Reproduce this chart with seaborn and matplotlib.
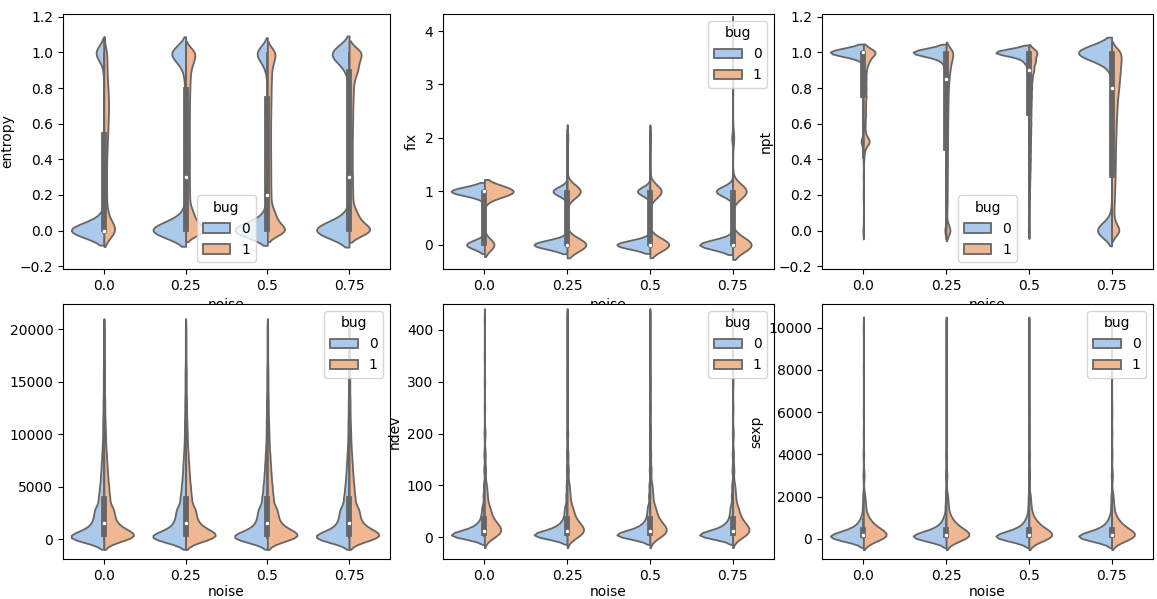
import numpy as np
import pandas as pd
import matplotlib
matplotlib.use("Agg")
import matplotlib.pyplot as plt
import seaborn as sns

noise_levels = ["0.0", "0.25", "0.5", "0.75"]
bug_levels = ["0", "1"]

# ---- entropy: support grid (step 0.05) and counts per (noise, bug) ----
entropy_grid = [0.0, 0.05, 0.1, 0.15, 0.2, 0.25, 0.3, 0.35, 0.4, 0.45, 0.5,
                0.55, 0.6, 0.65, 0.7, 0.75, 0.8, 0.85, 0.9, 0.95, 1.0]
entropy_n000_b0 = [300, 30, 8, 2, 2, 1, 1, 1, 1, 1, 1, 1, 1, 1, 1, 1, 1, 2, 3, 10, 70]
entropy_n000_b1 = [30, 8, 6, 4, 4, 4, 4, 4, 4, 5, 5, 6, 6, 7, 7, 7, 6, 5, 5, 4, 6]
entropy_n025_b0 = [280, 40, 12, 4, 3, 3, 3, 3, 3, 3, 3, 3, 3, 3, 3, 4, 4, 6, 10, 30, 110]
entropy_n025_b1 = [250, 100, 80, 40, 40, 38, 37, 37, 38, 37, 37, 37, 37, 37, 38, 40, 42, 45, 50, 80, 110]
entropy_n050_b0 = [280, 40, 14, 7, 6, 5, 5, 4, 4, 4, 4, 3, 3, 3, 3, 3, 3, 3, 8, 25, 80]
entropy_n050_b1 = [250, 110, 85, 40, 40, 37, 37, 36, 36, 35, 35, 35, 35, 37, 38, 40, 40, 45, 45, 70, 100]
entropy_n075_b0 = [260, 35, 10, 2, 2, 2, 2, 2, 2, 2, 2, 2, 2, 2, 2, 3, 3, 6, 12, 40, 120]
entropy_n075_b1 = [280, 110, 80, 35, 35, 33, 32, 30, 30, 30, 30, 32, 33, 35, 35, 40, 40, 50, 90, 90, 150]

# ---- fix ----
fix_grid = [0, 1, 2, 3, 4]
fix_n000_b0 = [700, 1300, 0, 0, 0]
fix_n000_b1 = [75, 225, 0, 0, 0]
fix_n025_b0 = [1400, 600, 20, 0, 0]
fix_n025_b1 = [300, 210, 12, 0, 0]
fix_n050_b0 = [1450, 550, 15, 0, 0]
fix_n050_b1 = [300, 180, 9, 0, 0]
fix_n075_b0 = [1400, 700, 40, 3, 1]
fix_n075_b1 = [300, 220, 18, 3, 1]

# ---- npt (step 0.05) ----
npt_grid = entropy_grid
npt_n000_b0 = [2, 0, 0, 0, 1, 0, 1, 0, 1, 1, 10, 1, 1, 1, 1, 1, 1, 1, 1, 3, 150]
npt_n000_b1 = [0, 0, 0, 0, 0, 0, 0, 0, 2, 5, 30, 8, 8, 10, 10, 12, 12, 12, 13, 25, 60]
npt_n025_b0 = [12, 1, 1, 1, 1, 1, 1, 1, 1, 1, 2, 2, 2, 2, 2, 3, 3, 4, 10, 30, 300]
npt_n025_b1 = [150, 22, 20, 30, 30, 32, 34, 36, 38, 40, 41, 43, 45, 48, 52, 58, 64, 80, 110, 150, 230]
npt_n050_b0 = [4, 1, 1, 0, 1, 1, 1, 1, 1, 1, 2, 2, 2, 2, 3, 3, 4, 5, 10, 30, 220]
npt_n050_b1 = [5, 2, 3, 5, 10, 15, 20, 25, 28, 30, 32, 35, 38, 40, 43, 48, 52, 60, 90, 120, 160]
npt_n075_b0 = [170, 15, 4, 2, 1, 1, 1, 1, 1, 1, 2, 2, 2, 2, 2, 3, 3, 5, 10, 35, 400]
npt_n075_b1 = [70, 20, 15, 18, 20, 22, 24, 25, 26, 27, 28, 30, 32, 35, 38, 42, 50, 55, 60, 65, 70]

# ---- la (same shape at every noise level) ----
la_grid = [0, 250, 500, 1000, 1500, 2000, 2500, 3000, 4000, 5000, 6000, 7000,
           8000, 9000, 10000, 11000, 12000, 13000, 14000, 15000, 16000, 17000,
           18000, 19000, 20000]
la_b0 = [60, 45, 30, 25, 20, 17, 15, 20, 18, 14, 11, 9, 7, 5, 4, 4, 3, 3, 2, 2, 2, 1, 1, 1, 1]
la_b1 = [25, 45, 40, 28, 20, 17, 15, 20, 18, 15, 12, 10, 8, 6, 5, 4, 3, 3, 2, 2, 2, 1, 1, 1, 1]

# ---- ndev ----
ndev_grid = [1, 3, 5, 8, 12, 16, 20, 25, 30, 40, 50, 60, 80, 100, 130,
             160, 200, 250, 300, 350, 420]
ndev_b0 = [60, 50, 42, 35, 26, 19, 15, 12, 13, 12, 9, 10, 8, 6, 4, 3, 2, 1, 1, 1, 1]
ndev_b1 = [6, 9, 12, 17, 19, 17, 15, 14, 17, 17, 13, 15, 13, 10, 7, 5, 4, 2, 2, 1, 1]

# ---- sexp ----
sexp_grid = [0, 50, 100, 200, 300, 500, 700, 1000, 1500, 2000, 3000,
             4000, 5000, 6000, 8000, 10000]
sexp_b0 = [45, 60, 60, 50, 45, 30, 20, 14, 7, 5, 3, 2, 1, 1, 1, 1]
sexp_b1 = [15, 30, 40, 42, 42, 35, 27, 24, 14, 10, 6, 3, 2, 2, 1, 1]


def build(grid, counts_by_noise):
    rows = []
    for noise, (c0, c1) in zip(noise_levels, counts_by_noise):
        for bug, c in zip(bug_levels, (c0, c1)):
            vals = np.repeat(np.asarray(grid, dtype=float), c)
            rows.append(pd.DataFrame({"noise": noise, "bug": bug, "value": vals}))
    return pd.concat(rows, ignore_index=True)


panels = [
    ("entropy", build(entropy_grid, [(entropy_n000_b0, entropy_n000_b1),
                                     (entropy_n025_b0, entropy_n025_b1),
                                     (entropy_n050_b0, entropy_n050_b1),
                                     (entropy_n075_b0, entropy_n075_b1)]),
     0.35, (-0.215, 1.215), "lower center"),
    ("fix", build(fix_grid, [(fix_n000_b0, fix_n000_b1), (fix_n025_b0, fix_n025_b1),
                             (fix_n050_b0, fix_n050_b1), (fix_n075_b0, fix_n075_b1)]),
     0.8, (-0.455, 4.32), "upper right"),
    ("npt", build(npt_grid, [(npt_n000_b0, npt_n000_b1), (npt_n025_b0, npt_n025_b1),
                             (npt_n050_b0, npt_n050_b1), (npt_n075_b0, npt_n075_b1)]),
     0.35, (-0.215, 1.215), "lower center"),
    ("", build(la_grid, [(la_b0, la_b1)] * 4), 0.4, (-1900, 22400), "upper right"),
    ("ndev", build(ndev_grid, [(ndev_b0, ndev_b1)] * 4), 0.5, (-42, 450), "upper right"),
    ("sexp", build(sexp_grid, [(sexp_b0, sexp_b1)] * 4), 0.7, (-950, 11120), "upper right"),
]

fig = plt.figure(figsize=(11.57, 5.99), dpi=100)
W, H = 1157.0, 599.0
lefts = [63, 443, 822]
widths = [327, 331, 331]
tops = [14, 304]
ax_h = 255

palette = sns.color_palette("pastel")[:2]
gray = "#666666"

for i, (label, df, bw, ylim, loc) in enumerate(panels):
    r, c = divmod(i, 3)
    ax = fig.add_axes([lefts[c] / W, 1 - (tops[r] + ax_h) / H, widths[c] / W, ax_h / H])
    for j, noise in enumerate(noise_levels):
        sub = df[df["noise"] == noise]
        sns.violinplot(data=sub, x="noise", y="value", hue="bug",
                       order=noise_levels, hue_order=bug_levels,
                       palette=palette, split=True, inner=None,
                       common_norm=True, bw_adjust=bw, cut=2,
                       linecolor=gray, linewidth=1.3,
                       legend=(j == 3), ax=ax)
    # combined inner box (IQR bar + whiskers) per noise level
    sns.boxplot(data=df, x="noise", y="value", order=noise_levels,
                width=0.05, whis=1.5, showfliers=False, showcaps=False,
                color=gray, linecolor=gray, saturation=1, linewidth=1.3,
                medianprops=dict(linewidth=0), ax=ax)
    sns.pointplot(data=df, x="noise", y="value", order=noise_levels,
                  estimator="median", errorbar=None, color="white",
                  marker="o", linestyle="none", markersize=3.2,
                  markeredgewidth=0.6, markeredgecolor=gray, zorder=6, ax=ax)
    ax.set_ylim(*ylim)
    ax.set_xlabel("noise", labelpad=4 if r == 0 else 2)
    ax.set_ylabel(label)
    sns.move_legend(ax, loc, title="bug")

fig.savefig("out.png", dpi=100)
